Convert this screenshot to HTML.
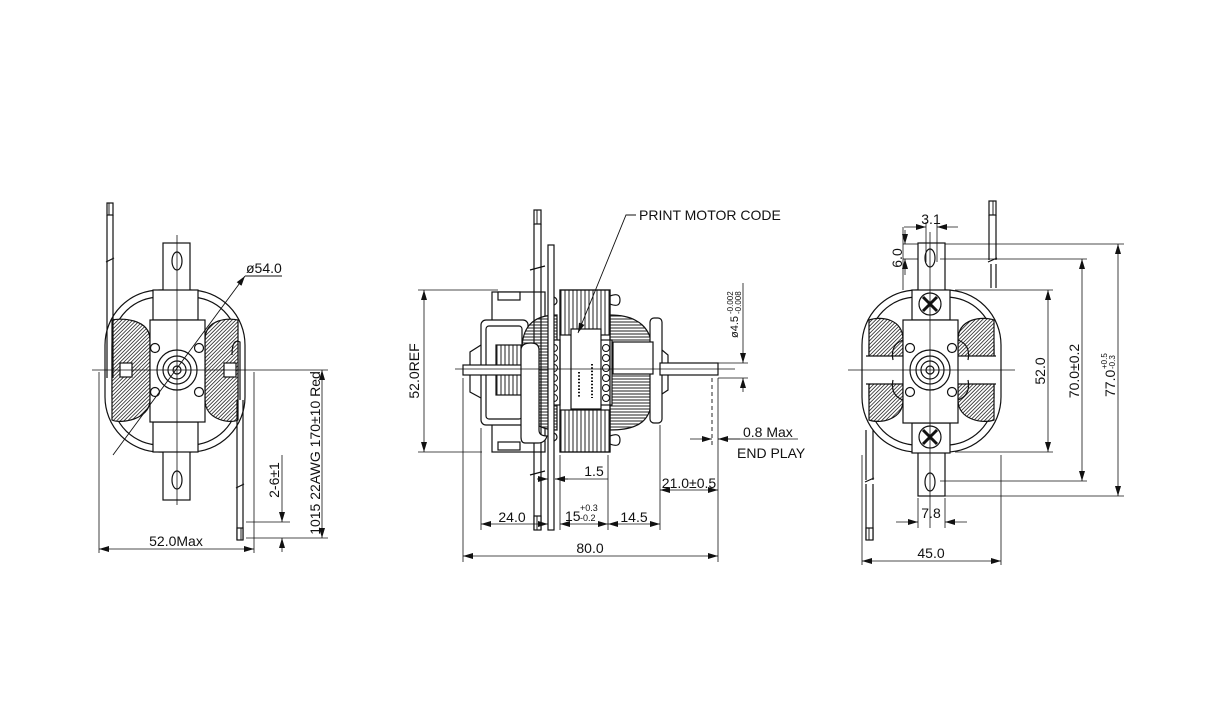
<!DOCTYPE html>
<html><head><meta charset="utf-8"><style>
html,body{margin:0;padding:0;background:#fff;}
svg{display:block}
text{font-family:"Liberation Sans Narrow","Liberation Sans",sans-serif;fill:#111;font-size:14px}
</style></head><body>
<svg width="1232" height="718" viewBox="0 0 1232 718" xmlns="http://www.w3.org/2000/svg">
<defs>
<pattern id="h" width="2.6" height="2.6" patternUnits="userSpaceOnUse" patternTransform="rotate(45)">
<rect width="2.6" height="2.6" fill="#fff"/><line x1="0" y1="0" x2="0" y2="2.6" stroke="#333" stroke-width="1.7"/></pattern>
<pattern id="v" width="4" height="4" patternUnits="userSpaceOnUse">
<rect width="4" height="4" fill="#fff"/><line x1="1" y1="0" x2="1" y2="4" stroke="#222" stroke-width="1"/></pattern>
<pattern id="hz" width="4" height="3" patternUnits="userSpaceOnUse">
<rect width="4" height="3" fill="#fff"/><line x1="0" y1="1" x2="4" y2="1" stroke="#333" stroke-width="1.1"/></pattern>
<marker id="a" viewBox="0 0 10 6" refX="10" refY="3" markerWidth="10" markerHeight="6" orient="auto-start-reverse" markerUnits="userSpaceOnUse"><path d="M0,0L10,3L0,6z" fill="#111"/></marker>
</defs>
<g stroke="#111" stroke-width="1.2" fill="none">

<!-- ============ LEFT VIEW ============ -->
<rect x="105" y="290" width="140" height="162" rx="55" fill="#fff"/>
<rect x="112" y="297" width="126" height="148" rx="48"/>
<path d="M112,320 C120,318 150,318 150,340 L150,400 C150,420 120,424 112,420 Z" fill="url(#h)"/>
<path d="M238,320 C230,318 205,318 205,340 L205,400 C205,420 230,424 238,420 Z" fill="url(#h)"/>
<rect x="163" y="243" width="27" height="257" fill="#fff"/>
<rect x="153" y="290" width="45" height="30" fill="#fff"/>
<rect x="153" y="422" width="45" height="30" fill="#fff"/>
<rect x="150" y="320" width="55" height="102" fill="#fff"/>
<ellipse cx="177" cy="261" rx="5" ry="9"/><ellipse cx="177" cy="480" rx="5" ry="9"/>
<circle cx="177" cy="370" r="20"/><circle cx="177" cy="370" r="14"/><circle cx="177" cy="370" r="9"/><circle cx="177" cy="370" r="4"/>
<circle cx="155" cy="348" r="4.5"/><circle cx="199" cy="348" r="4.5"/><circle cx="155" cy="392" r="4.5"/><circle cx="199" cy="392" r="4.5"/>
<rect x="120" y="363" width="12" height="14" fill="#fff"/><rect x="224" y="363" width="12" height="14" fill="#fff"/>
<rect x="107" y="203" width="6" height="12" fill="url(#v)"/>
<path d="M107,215 V378 M113,215 V378" />
<path d="M106,262 L114,258"/>
<path d="M232,355 Q232,338 240,342 L240,400 M237,400 V540 M243,400 V540"/>
<rect x="237" y="528" width="6" height="12" fill="url(#v)"/>
<path d="M236,488 L244,484"/>
<line x1="92" y1="370" x2="262" y2="370" stroke-width="0.8"/>
<line x1="177" y1="235" x2="177" y2="505" stroke-width="0.8"/>
<line x1="113" y1="455" x2="245" y2="276" stroke-width="0.9" marker-end="url(#a)"/>
<line x1="245" y1="276" x2="282" y2="276" stroke-width="0.9"/>
<line x1="99" y1="372" x2="99" y2="553" stroke-width="0.8"/>
<line x1="254" y1="372" x2="254" y2="553" stroke-width="0.8"/>
<line x1="99" y1="549" x2="254" y2="549" stroke-width="0.8" marker-start="url(#a)" marker-end="url(#a)"/>
<line x1="262" y1="370" x2="328" y2="370" stroke-width="0.8"/>
<line x1="246" y1="538" x2="328" y2="538" stroke-width="0.8"/>
<line x1="246" y1="522" x2="290" y2="522" stroke-width="0.8"/>
<line x1="322" y1="370" x2="322" y2="538" stroke-width="0.8" marker-start="url(#a)" marker-end="url(#a)"/>
<line x1="282" y1="455" x2="282" y2="522" stroke-width="0.8" marker-end="url(#a)"/>
<line x1="282" y1="552" x2="282" y2="538" stroke-width="0.8" marker-end="url(#a)"/>

<!-- ============ MIDDLE VIEW ============ -->
<rect x="492" y="292" width="53" height="160" fill="#fff"/>
<rect x="498" y="292" width="22" height="8" fill="#fff"/><rect x="498" y="442" width="22" height="8" fill="#fff"/>
<rect x="481" y="320" width="47" height="105" rx="5" fill="#fff"/>
<rect x="486" y="326" width="36" height="93" rx="3"/>
<path d="M481,345 L470,352 L470,392 L481,398"/>
<rect x="496" y="345" width="25" height="50" fill="url(#v)"/>
<rect x="463" y="365" width="60" height="10" fill="#fff"/>
<path d="M557,315 C530,315 522,330 522,350 L522,395 C522,420 540,430 557,430 Z" fill="url(#hz)"/>
<path d="M610,315 C640,315 652,330 652,350 L652,395 C652,420 640,430 610,430 Z" fill="url(#hz)"/>
<rect x="548" y="340" width="12" height="65" fill="#fff"/>
<rect x="600" y="340" width="12" height="65" fill="#fff"/>
<g stroke-width="1"><circle cx="554" cy="348" r="3.5"/><circle cx="554" cy="358" r="3.5"/><circle cx="554" cy="368" r="3.5"/><circle cx="554" cy="378" r="3.5"/><circle cx="554" cy="388" r="3.5"/><circle cx="554" cy="398" r="3.5"/>
<circle cx="606" cy="348" r="3.5"/><circle cx="606" cy="358" r="3.5"/><circle cx="606" cy="368" r="3.5"/><circle cx="606" cy="378" r="3.5"/><circle cx="606" cy="388" r="3.5"/><circle cx="606" cy="398" r="3.5"/></g>
<rect x="560" y="290" width="50" height="45" fill="url(#v)"/>
<rect x="560" y="410" width="50" height="42" fill="url(#v)"/>
<rect x="560" y="290" width="50" height="162"/>
<rect x="571" y="329" width="30" height="80" fill="#fff"/>
<g stroke-width="2" stroke-dasharray="1.5,1.8"><line x1="579" y1="372" x2="579" y2="398"/><line x1="592" y1="364" x2="592" y2="398"/></g>
<path d="M610,296 Q620,292 620,300 Q620,308 610,304 M610,436 Q620,432 620,440 Q620,448 610,444"/>
<circle cx="553" cy="301" r="4"/><circle cx="553" cy="437" r="4"/>
<rect x="650" y="318" width="12" height="105" rx="4" fill="#fff"/>
<rect x="613" y="342" width="40" height="32" fill="#fff"/>
<path d="M662,350 L668,355 L668,390 L662,394"/>
<rect x="548" y="245" width="6" height="285" fill="#fff"/>
<rect x="534" y="210" width="7" height="14" fill="url(#v)"/>
<path d="M534,224 V530 M541,224 V530"/>
<rect x="534" y="516" width="7" height="14" fill="url(#v)"/>
<path d="M530,270 L545,266 M530,475 L545,471"/>
<path d="M521,350 Q521,343 531,343 Q539,343 539,350 L539,430 Q539,436 547,436 Q545,443 538,443 L525,443 Q521,443 521,437 Z" fill="#fff"/>
<rect x="660" y="363" width="58" height="12" fill="#fff"/>
<line x1="455" y1="369" x2="735" y2="369" stroke-width="0.7"/>
<line x1="712" y1="378" x2="712" y2="445" stroke-width="0.9" stroke-dasharray="4,3"/>
<path d="M636,215 L626,215 L578,333" stroke-width="0.9" marker-end="url(#a)"/>
<line x1="418" y1="290" x2="498" y2="290" stroke-width="0.8"/>
<line x1="418" y1="452" x2="482" y2="452" stroke-width="0.8"/>
<line x1="424" y1="290" x2="424" y2="452" stroke-width="0.8" marker-start="url(#a)" marker-end="url(#a)"/>
<line x1="463" y1="378" x2="463" y2="562" stroke-width="0.8"/>
<line x1="718" y1="378" x2="718" y2="562" stroke-width="0.8"/>
<line x1="463" y1="556" x2="718" y2="556" stroke-width="0.8" marker-start="url(#a)" marker-end="url(#a)"/>
<line x1="481" y1="428" x2="481" y2="530" stroke-width="0.8"/>
<line x1="560" y1="455" x2="560" y2="530" stroke-width="0.8"/>
<line x1="608" y1="455" x2="608" y2="530" stroke-width="0.8"/>
<line x1="660" y1="425" x2="660" y2="530" stroke-width="0.8"/>
<line x1="481" y1="524" x2="548" y2="524" stroke-width="0.8" marker-start="url(#a)" marker-end="url(#a)"/>
<line x1="560" y1="524" x2="608" y2="524" stroke-width="0.8" marker-start="url(#a)" marker-end="url(#a)"/>
<line x1="608" y1="524" x2="660" y2="524" stroke-width="0.8" marker-start="url(#a)" marker-end="url(#a)"/>
<line x1="537" y1="479" x2="548" y2="479" stroke-width="0.8" marker-end="url(#a)"/>
<line x1="568" y1="479" x2="555" y2="479" stroke-width="0.8" marker-end="url(#a)"/>
<line x1="555" y1="479" x2="608" y2="479" stroke-width="0.8"/>
<line x1="660" y1="490" x2="718" y2="490" stroke-width="0.8" marker-start="url(#a)" marker-end="url(#a)"/>
<line x1="690" y1="439" x2="712" y2="439" stroke-width="0.8" marker-end="url(#a)"/>
<line x1="740" y1="439" x2="718" y2="439" stroke-width="0.8" marker-end="url(#a)"/>
<line x1="718" y1="439" x2="798" y2="439" stroke-width="0.8"/>
<line x1="718" y1="363" x2="748" y2="363" stroke-width="0.8"/>
<line x1="718" y1="378" x2="748" y2="378" stroke-width="0.8"/>
<line x1="743" y1="283" x2="743" y2="363" stroke-width="0.8" marker-end="url(#a)"/>
<line x1="743" y1="392" x2="743" y2="378" stroke-width="0.8" marker-end="url(#a)"/>

<!-- ============ RIGHT VIEW ============ -->
<rect x="862" y="290" width="139" height="162" rx="55" fill="#fff"/>
<rect x="869" y="297" width="125" height="148" rx="48"/>
<path d="M869,320 C880,316 903,318 903,340 L903,400 C903,420 880,424 869,420 Z" fill="url(#h)"/>
<path d="M994,320 C983,316 958,318 958,340 L958,400 C958,420 983,424 994,420 Z" fill="url(#h)"/>
<rect x="866" y="356" width="130" height="28" fill="#fff" stroke="none"/>
<path d="M866,356 H903 M866,384 H903 M958,356 H996 M958,384 H996"/>
<rect x="918" y="243" width="27" height="253" fill="#fff"/>
<rect x="912" y="290" width="38" height="30" fill="#fff"/>
<rect x="912" y="423" width="38" height="30" fill="#fff"/>
<rect x="903" y="320" width="55" height="103" fill="#fff"/>
<path d="M903,340 Q890,345 893,360 M903,400 Q890,395 893,380 M958,340 Q971,345 968,360 M958,400 Q971,395 968,380"/>
<ellipse cx="930" cy="258" rx="5" ry="9"/><ellipse cx="930" cy="482" rx="5" ry="9"/>
<circle cx="930" cy="304" r="11"/><path d="M923,297 L937,311 M937,297 L923,311" stroke-width="3"/>
<circle cx="930" cy="437" r="11"/><path d="M923,430 L937,444 M937,430 L923,444" stroke-width="3"/>
<circle cx="930" cy="370" r="20"/><circle cx="930" cy="370" r="14"/><circle cx="930" cy="370" r="9"/><circle cx="930" cy="370" r="4"/>
<circle cx="910" cy="348" r="4.5"/><circle cx="952" cy="348" r="4.5"/><circle cx="910" cy="392" r="4.5"/><circle cx="952" cy="392" r="4.5"/>
<rect x="989" y="201" width="7" height="14" fill="url(#v)"/>
<path d="M989,215 V260 M996,215 V260 M991,264 V288 M996,264 V288 M988,262 L997,258"/>
<path d="M866,430 V480 M873,430 V480 M866,484 V540 M873,484 V540 M865,482 L874,478"/>
<rect x="866" y="528" width="7" height="12" fill="url(#v)"/>
<line x1="848" y1="370" x2="1015" y2="370" stroke-width="0.8"/>
<line x1="930" y1="232" x2="930" y2="528" stroke-width="0.8"/>
<line x1="945" y1="244" x2="1124" y2="244" stroke-width="0.8"/>
<line x1="940" y1="259" x2="1087" y2="259" stroke-width="0.8"/>
<line x1="955" y1="290" x2="1053" y2="290" stroke-width="0.8"/>
<line x1="955" y1="452" x2="1053" y2="452" stroke-width="0.8"/>
<line x1="940" y1="481" x2="1087" y2="481" stroke-width="0.8"/>
<line x1="945" y1="496" x2="1124" y2="496" stroke-width="0.8"/>
<line x1="1048" y1="290" x2="1048" y2="452" stroke-width="0.8" marker-start="url(#a)" marker-end="url(#a)"/>
<line x1="1082" y1="259" x2="1082" y2="481" stroke-width="0.8" marker-start="url(#a)" marker-end="url(#a)"/>
<line x1="1118" y1="244" x2="1118" y2="496" stroke-width="0.8" marker-start="url(#a)" marker-end="url(#a)"/>
<line x1="862" y1="455" x2="862" y2="565" stroke-width="0.8"/>
<line x1="1001" y1="455" x2="1001" y2="565" stroke-width="0.8"/>
<line x1="862" y1="561" x2="1001" y2="561" stroke-width="0.8" marker-start="url(#a)" marker-end="url(#a)"/>
<line x1="918" y1="498" x2="918" y2="528" stroke-width="0.8"/>
<line x1="945" y1="498" x2="945" y2="528" stroke-width="0.8"/>
<line x1="896" y1="522" x2="918" y2="522" stroke-width="0.8" marker-end="url(#a)"/>
<line x1="967" y1="522" x2="945" y2="522" stroke-width="0.8" marker-end="url(#a)"/>
<line x1="904" y1="227" x2="926" y2="227" stroke-width="0.8" marker-end="url(#a)"/>
<line x1="958" y1="227" x2="937" y2="227" stroke-width="0.8" marker-end="url(#a)"/>
<line x1="926" y1="222" x2="926" y2="262" stroke-width="0.8"/>
<line x1="937" y1="222" x2="937" y2="262" stroke-width="0.8"/>
<line x1="903" y1="227" x2="903" y2="290" stroke-width="0.8"/>
<line x1="903" y1="244" x2="918" y2="244" stroke-width="0.8"/>
<line x1="903" y1="259" x2="918" y2="259" stroke-width="0.8"/>
<line x1="905" y1="230" x2="905" y2="244" stroke-width="0.8" marker-end="url(#a)"/>
<line x1="905" y1="275" x2="905" y2="259" stroke-width="0.8" marker-end="url(#a)"/>
</g>

<!-- ============ TEXT ============ -->
<text x="246" y="273">ø54.0</text>
<text x="176" y="546" text-anchor="middle">52.0Max</text>
<text transform="translate(320,453) rotate(-90)" text-anchor="middle">1015 22AWG 170±10 Red</text>
<text transform="translate(279,480) rotate(-90)" text-anchor="middle">2-6±1</text>

<text x="639" y="220">PRINT MOTOR CODE</text>
<text transform="translate(419,371) rotate(-90)" text-anchor="middle">52.0REF</text>
<text x="590" y="553" text-anchor="middle">80.0</text>
<text x="512" y="522" text-anchor="middle">24.0</text>
<text x="565" y="521">15</text><text x="580" y="511" style="font-size:9px">+0.3</text><text x="580" y="521" style="font-size:9px">-0.2</text>
<text x="634" y="522" text-anchor="middle">14.5</text>
<text x="594" y="476" text-anchor="middle">1.5</text>
<text x="689" y="488" text-anchor="middle">21.0±0.5</text>
<text x="743" y="437">0.8 Max</text>
<text x="737" y="458">END PLAY</text>
<text transform="translate(738,338) rotate(-90)" style="font-size:11px">ø4.5</text>
<text transform="translate(733,314) rotate(-90)" style="font-size:8px">-0.002</text>
<text transform="translate(741,314) rotate(-90)" style="font-size:8px">-0.008</text>

<text x="931" y="224" text-anchor="middle">3.1</text>
<text transform="translate(902,258) rotate(-90)" text-anchor="middle">6.0</text>
<text transform="translate(1045,371) rotate(-90)" text-anchor="middle">52.0</text>
<text transform="translate(1079,371) rotate(-90)" text-anchor="middle">70.0±0.2</text>
<text transform="translate(1115,397) rotate(-90)">77.0</text>
<text transform="translate(1107,369) rotate(-90)" style="font-size:8px">+0.5</text>
<text transform="translate(1115,369) rotate(-90)" style="font-size:8px">-0.3</text>
<text x="931" y="518" text-anchor="middle">7.8</text>
<text x="931" y="558" text-anchor="middle">45.0</text>
</svg>
</body></html>
